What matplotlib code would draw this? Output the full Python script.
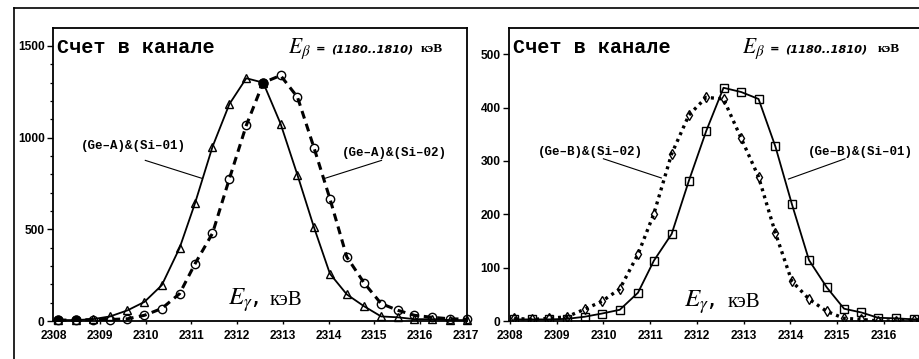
import matplotlib
matplotlib.use('Agg')
import matplotlib.pyplot as plt
from matplotlib.ticker import MultipleLocator, FixedLocator
from matplotlib.lines import Line2D

plt.rcParams['mathtext.fontset'] = 'stix'

# ---------------- data ----------------
energy = [2308.09, 2308.48, 2308.84, 2309.22, 2309.60, 2309.97, 2310.35, 2310.74,
          2311.08, 2311.46, 2311.83, 2312.20, 2312.57, 2312.95, 2313.32, 2313.68,
          2314.03, 2314.40, 2314.78, 2315.15, 2315.52, 2315.88, 2316.27, 2316.65,
          2317.02]

ge_a_si01 = [5, 5, 10, 25, 58, 104, 195, 398, 644, 950, 1183, 1324, 1300, 1076,
             796, 512, 258, 145, 80, 25, 20, 10, 10, 5, 5]
ge_a_si02 = [5, 5, 8, 8, 12, 31, 68, 149, 313, 478, 776, 1067, 1300, 1339, 1221,
             946, 667, 349, 207, 95, 58, 31, 20, 12, 10]

ge_b_si01 = [3, 3, 3, 4, 8, 14, 21, 53, 113, 163, 263, 356, 437, 429, 416, 327,
             220, 114, 63, 23, 16, 6, 5, 3, 3]
ge_b_si02 = [5, 3, 5, 8, 22, 37, 60, 125, 201, 313, 386, 419, 416, 342, 270, 165,
             75, 41, 18, 5, 3, 0, 0, 2, 2]

x_ticks = [2308, 2309, 2310, 2311, 2312, 2313, 2314, 2315, 2316, 2317]
x_ticks_right = [2308, 2309, 2310, 2311, 2312, 2313, 2314, 2315, 2316]
y_ticks_left = [0, 500, 1000, 1500]
y_ticks_right = [0, 100, 200, 300, 400, 500]

title_text = "Счет в канале"
label_a1 = "(Ge–A)&(Si–01)"
label_a2 = "(Ge–A)&(Si–02)"
label_b1 = "(Ge–B)&(Si–01)"
label_b2 = "(Ge–B)&(Si–02)"

# ---------------- figure ----------------
W, H = 919, 359
fig = plt.figure(figsize=(W / 100, H / 100), dpi=100)
fig.patch.set_facecolor('white')


def px(x, y):
    return x / W, 1 - y / H


# outer frame lines (scan border)
fig.add_artist(Line2D([14 / W, 1], [1 - 8 / H, 1 - 8 / H], color='black', lw=1.2))
fig.add_artist(Line2D([14 / W, 14 / W], [0, 1 - 8 / H], color='black', lw=1.2))

bottom = 1 - 321 / H
top = 1 - 28 / H
ax1 = fig.add_axes([53 / W, bottom, (467 - 53) / W, top - bottom])
ax2 = fig.add_axes([509 / W, bottom, (W - 509) / W + 0.01, top - bottom])

tickfont = dict(family='Liberation Sans', weight='bold', size=8.6)

for ax in (ax1, ax2):
    for s in ax.spines.values():
        s.set_linewidth(1.3)
    ax.tick_params(axis='x', direction='out', length=2.5, width=1, pad=4)
    ax.tick_params(axis='y', direction='out', length=4, width=1, pad=2)
    ax.tick_params(axis='y', which='minor', direction='out', length=2.5, width=0.9)

# ---- left panel ----
mk = dict(markerfacecolor='none', markeredgecolor='black', markeredgewidth=1.0,
          clip_on=False, zorder=3)
ax1.plot(energy, ge_a_si01, '-', color='black', lw=1.3, marker='^', markersize=5.5, **mk)
ax1.plot(energy, ge_a_si02, color='black', lw=2.2, linestyle=(0, (2.6, 1.8)),
         marker='o', markersize=6, **mk)
# coincident point drawn filled
for e, a, b in zip(energy, ge_a_si01, ge_a_si02):
    if a == b:
        ax1.plot([e], [a], 'o', color='black', markersize=6.5, zorder=4)

ax1.set_xlim(2307.97, 2317.03)
ax1.set_ylim(0, 1598)
ax1.xaxis.set_major_locator(FixedLocator(x_ticks))
ax1.yaxis.set_major_locator(FixedLocator(y_ticks_left))
ax1.yaxis.set_minor_locator(MultipleLocator(100))

# ---- right panel ----
ax2.plot(energy, ge_b_si01, '-', color='black', lw=1.3, marker='s', markersize=5.5,
         markerfacecolor='none', markeredgecolor='black', markeredgewidth=1.0, zorder=3)
ax2.plot(energy, ge_b_si02, color='black', lw=2.4, linestyle=(0, (0.9, 1.3)),
         marker='d', markersize=5.5, markerfacecolor='none', markeredgecolor='black',
         markeredgewidth=1.0, zorder=3)
ax2.set_xlim(2307.98, 2316.95)
ax2.set_ylim(0, 549)
ax2.xaxis.set_major_locator(FixedLocator(x_ticks_right))
ax2.yaxis.set_major_locator(FixedLocator(y_ticks_right))
ax2.spines['right'].set_visible(False)

for ax in (ax1, ax2):
    ax.set_xticklabels([str(t) for t in ax.get_xticks()], **tickfont)
    ax.set_yticklabels([str(int(t)) for t in ax.get_yticks()], **tickfont)

# ---- annotations ----
lab = dict(family='Liberation Mono', weight='bold', size=9, ha='center', va='center')
ax1.text(2309.72, 957, label_a1, **lab)
ax1.plot([2309.99, 2311.23], [876, 778], color='black', lw=0.8)
ax1.text(2315.45, 914, label_a2, **lab)
ax1.plot([2315.16, 2313.92], [876, 778], color='black', lw=0.8)

ax2.text(2309.72, 317, label_b2, **lab)
ax2.plot([2310.0, 2311.24], [304, 268], color='black', lw=0.8)
ax2.text(2315.5, 317, label_b1, **lab)
ax2.plot([2315.17, 2313.96], [304, 266], color='black', lw=0.8)

# ---- titles / axis texts ----
for x0 in (57, 513):
    fig.text(*px(x0, 53), title_text, family='Liberation Mono', weight='bold',
             size=14.5, ha='left', va='baseline')

for xe, xeq, xpar, xk in ((288, 316, 331, 421), (742, 770, 785, 878)):
    fig.text(*px(xe, 53), r'$E_\beta$', size=15.5, ha='left', va='baseline')
    fig.text(*px(xeq, 52), '=', family='DejaVu Sans', weight='bold', size=8.2,
             ha='left', va='baseline')
    fig.text(*px(xpar, 52), '(1180..1810)', family='DejaVu Sans',
             style='italic', weight='bold', size=8.2, ha='left', va='baseline')
    fig.text(*px(xk, 52), 'кэВ', family='Liberation Serif', weight='bold', size=9.5,
             ha='left', va='baseline')

for xe, xk, yb in ((228, 270, 305), (684, 728, 307)):
    fig.text(*px(xe, yb), r'$E_\gamma$,', size=18, ha='left', va='baseline')
    fig.text(*px(xk, yb), 'кэВ', family='Liberation Serif', size=15,
             ha='left', va='baseline')

fig.savefig('out.png', dpi=100, facecolor='white')
